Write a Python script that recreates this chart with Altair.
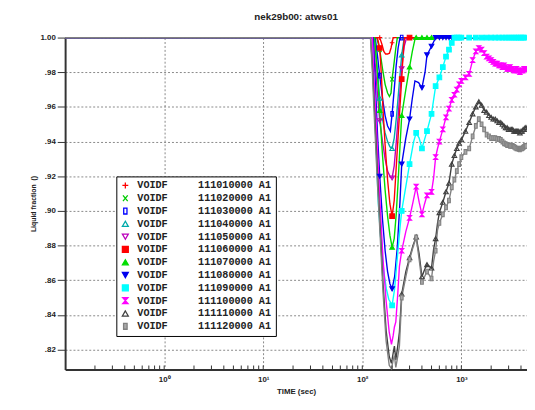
import altair as alt
import pandas as pd

END = 4600

# ---- series data (time in s, liquid fraction) ----
t_s1 = [0.1, 150, 158, 165, 172, 180, 188, 195, 200, 205, END]
v_s1 = [1.0, 1.0, 0.996, 0.992, 0.9905, 0.9905, 0.991, 0.994, 0.997, 1.0, 1.0]

t_s2 = [0.1, 140, 150, 160, 170, 180, 188, 195, 200, 210, 218, 226, END]
v_s2 = [1.0, 1.0, 0.993, 0.982, 0.973, 0.968, 0.966, 0.968, 0.976, 0.986, 0.994, 1.0, 1.0]

t_s3 = [0.1, 135, 142, 150, 160, 170, 180, 192, 200, 210, 220, 230, 240, 250, END]
v_s3 = [1.0, 1.0, 0.99, 0.978, 0.965, 0.955, 0.949, 0.946, 0.956, 0.97, 0.984, 0.994, 1.0, 1.0, 1.0]

t_s4 = [0.1, 131, 138, 145, 150, 160, 170, 180, 190, 200, 210, 222, 235, 250, 265, END]
v_s4 = [1.0, 1.0, 0.988, 0.975, 0.965, 0.953, 0.945, 0.94, 0.937, 0.936, 0.942, 0.955, 0.972, 0.99, 1.0, 1.0]

t_s5 = [0.1, 129, 135, 142, 150, 160, 170, 180, 190, 200, 210, 222, 235, 250, 265, 280, END]
v_s5 = [1.0, 1.0, 0.985, 0.968, 0.952, 0.94, 0.93, 0.923, 0.92, 0.919, 0.926, 0.942, 0.962, 0.982, 0.995, 1.0, 1.0]

t_s6 = [0.1, 142, 150, 156, 162, 170, 180, 190, 200, 210, 220, 230, 240, 250, 258, 266, 300, END]
v_s6 = [1.0, 1.0, 0.994, 0.978, 0.958, 0.938, 0.918, 0.904, 0.897, 0.906, 0.925, 0.943, 0.96, 0.976, 0.99, 1.0, 1.0, 1.0]

t_s7 = [0.1, 133, 140, 150, 160, 170, 180, 190, 200, 210, 220, 230, 240, 250, 275, 300,
        320, 340, 350, 400, 450, 500, END]
v_s7 = [1.0, 1.0, 0.985, 0.958, 0.932, 0.912, 0.897, 0.886, 0.879, 0.884, 0.898, 0.917, 0.937, 0.955, 0.97, 0.983,
        0.992, 0.999, 1.0, 1.0, 1.0, 1.0, 1.0]

t_s8 = [0.1, 128, 135, 143, 150, 160, 170, 180, 190, 200, 212, 225, 240, 250, 275, 300,
        320, 340, 370, 400, 430, 450, 480, 500, 530, 550, 600, 650, 700, 750, 800, END]
v_s8 = [1.0, 1.0, 0.975, 0.942, 0.92, 0.895, 0.877, 0.865, 0.858, 0.855, 0.862, 0.878, 0.905, 0.927, 0.942, 0.953,
        0.965, 0.975, 0.974, 0.971, 0.98, 0.99, 0.993, 0.995, 0.998, 1.0, 1.0, 1.0, 1.0, 1.0, 1.0, 1.0]

t_s9 = [0.1, 126, 131, 137, 145, 155, 165, 175, 185, 200, 212, 225, 240, 250, 275, 300,
        330, 350, 375, 400, 450, 500, 550, 600, 650, 700, 750, 800, 850, 900, 950, 1000,
        1200, 1400, 1600, 1800, 2000, 2200, 2400, 2600, 2800, 3000, 3200, 3400, 3600, 3800, 4000, 4200, 4400, END]
v_s9 = [1.0, 1.0, 0.975, 0.94, 0.905, 0.88, 0.865, 0.855, 0.849, 0.8455, 0.855, 0.872, 0.89, 0.9, 0.914, 0.927,
        0.94, 0.945, 0.942, 0.936, 0.946, 0.956, 0.972, 0.977, 0.983, 0.989, 0.993, 0.997, 1.0, 1.0, 1.0, 1.0,
        1.0, 1.0, 1.0, 1.0, 1.0, 1.0, 1.0, 1.0, 1.0, 1.0, 1.0, 1.0, 1.0, 1.0, 1.0, 1.0, 1.0, 1.0]

# shared time grid of the three long-transient series
t_late = [0.1, 121, 126, 132, 141, 151, 162, 174, 187, 197, 205, 211, 218, 228, 237, 250,
          275, 300, 325, 350, 375, 400, 425, 450, 475, 500, 525, 550, 575, 600, 650, 700,
          750, 800, 850, 900, 950, 1000, 1100, 1200, 1300, 1400, 1500, 1600, 1700, 1800, 1900, 2000,
          2100, 2200, 2300, 2400, 2500, 2600, 2700, 2800, 2900, 3000, 3100, 3200, 3300, 3400, 3500, 3600,
          3700, 3800, 3900, 4000, 4100, 4200, 4300, 4400, 4500, END]
v_s10 = [1.0, 1.0, 1.0, 0.975, 0.94, 0.905, 0.872, 0.848, 0.83, 0.823, 0.828, 0.833, 0.836, 0.852, 0.868, 0.877,
         0.888, 0.896, 0.905, 0.914, 0.905, 0.898, 0.904, 0.909, 0.910, 0.911, 0.919, 0.931, 0.936, 0.940, 0.947, 0.954,
         0.959, 0.964, 0.967, 0.970, 0.973, 0.975, 0.977, 0.979, 0.987, 0.992, 0.994, 0.993, 0.991, 0.989, 0.988, 0.987,
         0.986, 0.985, 0.985, 0.984, 0.984, 0.983, 0.984, 0.983, 0.982, 0.982, 0.983, 0.982, 0.982, 0.981, 0.981, 0.982,
         0.981, 0.981, 0.980, 0.981, 0.981, 0.981, 0.982, 0.982, 0.982, 0.982]
v_s11 = [1.0, 1.0, 0.986, 0.962, 0.927, 0.892, 0.858, 0.831, 0.816, 0.812, 0.818, 0.822, 0.814, 0.822, 0.83, 0.852,
         0.865, 0.873, 0.88, 0.885, 0.875, 0.862, 0.866, 0.869, 0.868, 0.867, 0.878, 0.884, 0.893, 0.899, 0.905, 0.911,
         0.916, 0.927, 0.932, 0.936, 0.939, 0.941, 0.946, 0.951, 0.956, 0.960, 0.963, 0.961, 0.958, 0.957, 0.955, 0.954,
         0.953, 0.953, 0.952, 0.951, 0.951, 0.950, 0.949, 0.948, 0.948, 0.947, 0.947, 0.947, 0.947, 0.946, 0.946, 0.946,
         0.946, 0.946, 0.945, 0.946, 0.946, 0.947, 0.947, 0.948, 0.948, 0.948]
v_s12 = [1.0, 1.0, 0.982, 0.955, 0.92, 0.887, 0.853, 0.825, 0.811, 0.809, 0.814, 0.8165, 0.8097, 0.816, 0.822, 0.85,
         0.862, 0.872, 0.879, 0.8847, 0.872, 0.859, 0.862, 0.865, 0.863, 0.861, 0.871, 0.877, 0.889, 0.893, 0.898, 0.902,
         0.906, 0.9136, 0.918, 0.923, 0.927, 0.931, 0.934, 0.936, 0.943, 0.949, 0.953, 0.950, 0.947, 0.944, 0.943, 0.942,
         0.942, 0.942, 0.9415, 0.9415, 0.941, 0.940, 0.939, 0.9386, 0.938, 0.938, 0.9375, 0.9375, 0.9375, 0.937, 0.9365, 0.936,
         0.936, 0.9358, 0.9355, 0.936, 0.936, 0.9365, 0.937, 0.9375, 0.9375, 0.9375]

series_ids = ["111010000", "111020000", "111030000", "111040000", "111050000", "111060000",
              "111070000", "111080000", "111090000", "111100000", "111110000", "111120000"]
line_colors = ["#ff0000", "#00cc00", "#0000ff", "#00aaaa", "#bb00bb", "#ff0000",
               "#00dd00", "#0000ee", "#00ffff", "#ff00ff", "#404040", "#808080"]
fill_colors = ["transparent", "transparent", "transparent", "transparent", "transparent", "#ff0000",
               "#00dd00", "#0000ee", "#00ffff", "#ff00ff", "transparent", "#a8a8a8"]
shapes = ["M-1,0L1,0M0,-1L0,1",
          "M-0.8,-1L0.8,1M-0.8,1L0.8,-1",
          "M-0.55,-1L0.55,-1L0.55,1L-0.55,1Z",
          "triangle-up",
          "triangle-down",
          "square",
          "triangle-up",
          "triangle-down",
          "square",
          "M-0.9,-1L0.9,-1L-0.9,1L0.9,1Z",
          "triangle-up",
          "M-0.6,-1L0.6,-1L0.6,1L-0.6,1Z"]
times = [t_s1, t_s2, t_s3, t_s4, t_s5, t_s6, t_s7, t_s8, t_s9, t_late, t_late, t_late]
values = [v_s1, v_s2, v_s3, v_s4, v_s5, v_s6, v_s7, v_s8, v_s9, v_s10, v_s11, v_s12]

y_ticks = [0.82, 0.84, 0.86, 0.88, 0.90, 0.92, 0.94, 0.96, 0.98, 1.00]
x_ticks = [1, 10, 100, 1000]
x_minor = [0.2, 0.3, 0.4, 0.5, 0.6, 0.7, 0.8, 0.9, 1,
           2, 3, 4, 5, 6, 7, 8, 9, 10,
           20, 30, 40, 50, 60, 70, 80, 90, 100,
           200, 300, 400, 500, 600, 700, 800, 900, 1000,
           2000, 3000, 4000]

NB = "\u00a0"
labels = ["VOIDF" + NB * 5 + sid + NB + "A1" + NB for sid in series_ids]

rows = []
for i, (ts, vs) in enumerate(zip(times, values)):
    for t, v in zip(ts, vs):
        rows.append({"series": labels[i], "idx": i, "t": t, "v": v, "hex": line_colors[i],
                     "mark": bool(t >= 150 and t < END and t % 50 == 0)})
df = pd.DataFrame(rows)

W, H = 469, 337
xscale = alt.Scale(type="log", domain=[0.1, END], nice=False)
yscale = alt.Scale(domain=[0.8085, 1.0], nice=False, zero=False)

FONT = "Liberation Sans"

x_axis = alt.Axis(values=x_ticks, tickCount=20, title="TIME (sec)", grid=True, ticks=False, labelOverlap=False,
                  labelExpr="'10' + (datum.value == 1 ? '⁰' : datum.value == 10 ? '¹' : datum.value == 100 ? '²' : '³')",
                  labelPadding=6, titlePadding=4, labelFontSize=8, titleFontSize=8)
y_axis = alt.Axis(values=y_ticks, tickCount=20, title="Liquid fraction" + NB + NB + "()", grid=True,
                  labelOverlap=False,
                  labelExpr="datum.value >= 0.999 ? '1.00' : replace(format(datum.value, '.2f'), '0.', '.')",
                  tickSize=8, labelPadding=2, titlePadding=4, labelFontSize=8, titleFontSize=7)

legend = alt.Legend(title=None, orient="none", legendX=52, legendY=141,
                    fillColor="white", strokeColor="black", padding=4,
                    labelFont="Liberation Mono", labelFontWeight="bold", labelFontSize=10.3,
                    labelColor="#222", labelOffset=7, labelLimit=0,
                    symbolSize=36, symbolStrokeWidth=1.3, rowPadding=1)

lines = alt.Chart(df).mark_line(strokeWidth=1.4).encode(
    x=alt.X("t:Q", scale=xscale, axis=x_axis),
    y=alt.Y("v:Q", scale=yscale, axis=y_axis),
    color=alt.Color("hex:N", scale=None),
    detail="series:N",
    order="t:Q",
)

points = alt.Chart(df).transform_filter("datum.mark").mark_point(
    size=22, strokeWidth=1.1, opacity=1, fillOpacity=1, strokeOpacity=1
).encode(
    x=alt.X("t:Q", scale=xscale),
    y=alt.Y("v:Q", scale=yscale),
    stroke=alt.Stroke("series:N", scale=alt.Scale(domain=labels, range=line_colors), legend=legend),
    fill=alt.Fill("series:N", scale=alt.Scale(domain=labels, range=fill_colors), legend=legend),
    shape=alt.Shape("series:N", scale=alt.Scale(domain=labels, range=shapes), legend=legend),
    order="idx:Q",
)

minor = alt.Chart(pd.DataFrame({"t": x_minor})).mark_rule(color="#333", strokeWidth=1).encode(
    x=alt.X("t:Q", scale=xscale),
    y=alt.value(H),
    y2=alt.value(H - 4),
)

chart = alt.layer(lines, minor, points).properties(
    width=W, height=H,
    title=alt.TitleParams("nek29b00: atws01", fontSize=10, fontWeight="bold", font=FONT,
                          offset=11, anchor="middle", color="#222"),
    autosize=alt.AutoSizeParams(type="none"),
    padding={"left": 58, "top": 27, "right": 0, "bottom": 30},
).configure_view(stroke=None).configure_axis(
    labelFont=FONT, titleFont=FONT, labelFontWeight="bold", titleFontWeight="bold",
    labelColor="#222", titleColor="#222",
    domainColor="#333", domainWidth=2, tickColor="#333",
    gridColor="#888", gridDash=[2, 2], gridWidth=1,
)

chart.save("out.html", embed_options={"renderer": "svg", "actions": False})
